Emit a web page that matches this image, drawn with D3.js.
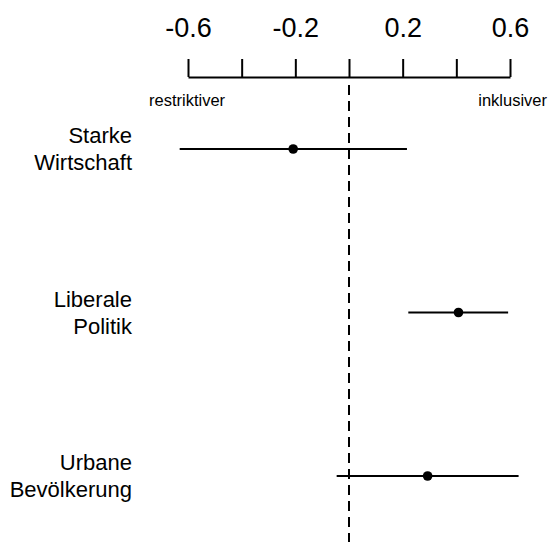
<!DOCTYPE html>
<html>
<head>
<meta charset="utf-8">
<script src="https://cdn.jsdelivr.net/npm/d3@7"></script>
<style>
  html, body { margin: 0; padding: 0; background: #fff; }
  svg { display: block; font-family: "Liberation Sans", Arial, Helvetica, sans-serif; }
</style>
</head>
<body>
<svg id="chart" width="549" height="542"></svg>
<script>
// ---- data ----
const categories = [["Starke", "Wirtschaft"], ["Liberale", "Politik"], ["Urbane", "Bevölkerung"]];
const estimates = [-0.208, 0.408, 0.293];
const lower = [-0.631, 0.221, -0.046];
const upper = [0.216, 0.593, 0.632];
const tickValues = [-0.6, -0.4, -0.2, 0, 0.2, 0.4, 0.6];
const tickLabels = ["-0.6", "", "-0.2", "", "0.2", "", "0.6"];
const leftNote = "restriktiver";
const rightNote = "inklusiver";

const svg = d3.select("#chart");
const x = d3.scaleLinear().domain([-0.6, 0.6]).range([188, 510]);
const keys = categories.map(c => c.join(" "));
const y = d3.scalePoint().domain(keys).range([149, 476]);

// axis on top
const axis = d3.axisTop(x)
  .tickValues(tickValues)
  .tickFormat((d, i) => tickLabels[i])
  .tickSize(18)
  .tickSizeOuter(0)
  .tickPadding(22);
const gAxis = svg.append("g").attr("transform", "translate(0,77)").call(axis);
gAxis.select(".domain").attr("stroke", "#000").attr("stroke-width", 2);
gAxis.selectAll(".tick line").attr("stroke", "#000").attr("stroke-width", 2);
gAxis.selectAll(".tick text")
  .attr("fill", "#000")
  .style("font-size", "27px")
  .style("font-family", "'Liberation Sans', Arial, sans-serif");

// direction notes
svg.append("text").attr("x", 149).attr("y", 106).attr("text-anchor", "start")
  .style("font-size", "16.5px").attr("fill", "#000").text(leftNote);
svg.append("text").attr("x", 547).attr("y", 106).attr("text-anchor", "end")
  .style("font-size", "16.5px").attr("fill", "#000").text(rightNote);

// zero reference line
svg.append("line")
  .attr("x1", x(0)).attr("x2", x(0))
  .attr("y1", 85).attr("y2", 542)
  .attr("stroke", "#000").attr("stroke-width", 2)
  .attr("stroke-dasharray", "10,6");

// rows
const rows = svg.append("g").selectAll("g").data(keys).join("g");
rows.append("line")
  .attr("x1", (d, i) => x(lower[i]))
  .attr("x2", (d, i) => x(upper[i]))
  .attr("y1", d => y(d)).attr("y2", d => y(d))
  .attr("stroke", "#000").attr("stroke-width", 2);
rows.append("circle")
  .attr("cx", (d, i) => x(estimates[i]))
  .attr("cy", d => y(d))
  .attr("r", 4.8)
  .attr("fill", "#000");
const lbl = rows.append("text")
  .attr("text-anchor", "end")
  .attr("fill", "#000")
  .style("font-size", "22px");
lbl.append("tspan").attr("x", 132).attr("y", d => y(d) - 6).text((d, i) => categories[i][0]);
lbl.append("tspan").attr("x", 132).attr("y", d => y(d) + 21).text((d, i) => categories[i][1]);
</script>
</body>
</html>
